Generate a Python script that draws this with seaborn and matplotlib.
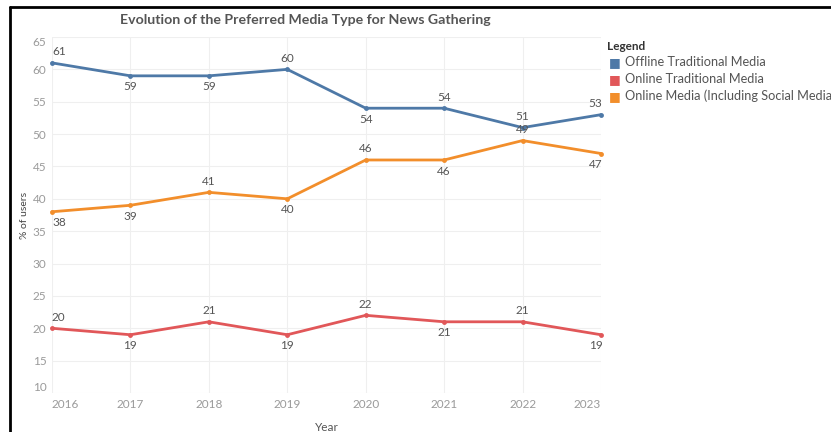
import matplotlib
matplotlib.use("Agg")
import matplotlib.pyplot as plt
import matplotlib.lines as mlines
import seaborn as sns
import pandas as pd

years = [2016, 2017, 2018, 2019, 2020, 2021, 2022, 2023]
offline_traditional = [61, 59, 59, 60, 54, 54, 51, 53]
online_traditional = [20, 19, 21, 19, 22, 21, 21, 19]
online_media = [38, 39, 41, 40, 46, 46, 49, 47]

series_names = ["Offline Traditional Media", "Online Traditional Media",
                "Online Media (Including Social Media)"]
series_values = [offline_traditional, online_traditional, online_media]
# label placement per point: +1 above, -1 below
label_sides = [
    [1, -1, -1, 1, -1, 1, 1, 1],
    [1, -1, 1, -1, 1, -1, 1, -1],
    [-1, -1, 1, -1, 1, -1, 1, -1],
]
colors = ["#4e79a7", "#e15759", "#f28e2b"]
y_ticks = [10, 15, 20, 25, 30, 35, 40, 45, 50, 55, 60, 65]

rows = []
for name, vals in zip(series_names, series_values):
    for yr, v in zip(years, vals):
        rows.append({"Year": yr, "Share": v, "Media": name})
df = pd.DataFrame(rows)

sns.set_theme(style="white")
plt.rcParams["font.family"] = ["Lato", "DejaVu Sans"]

fig = plt.figure(figsize=(8.31, 4.32), dpi=100)
ax = fig.add_axes([52 / 831, 1 - 393 / 432, (601 - 52) / 831, (393 - 37) / 432])

sns.lineplot(data=df, x="Year", y="Share", hue="Media", palette=colors,
             hue_order=series_names, marker="o", markersize=3.5,
             markeredgewidth=0, linewidth=2, ax=ax, legend=False)
for ln in ax.lines:
    ln.set_clip_on(False)

ax.set_xlim(years[0], years[-1])
ax.set_ylim(10, 65)
ax.set_xticks(years)
ax.set_yticks(y_ticks)
ax.set_xticklabels([str(y) for y in years])
ax.set_yticklabels([str(t) for t in y_ticks])
ax.grid(True, color="#efefef", linewidth=0.8)
for s in ax.spines.values():
    s.set_visible(False)
ax.tick_params(axis="both", length=0, labelsize=8.5, labelcolor="#9a9a9a", pad=4)

xl = ax.get_xticklabels()
xl[0].set_ha("left")
xl[-1].set_ha("right")
yl = ax.get_yticklabels()
yl[0].set_va("bottom")
yl[-1].set_va("top")

ax.set_xlabel("Year", fontsize=8.5, color="#555555", labelpad=9)
ax.set_ylabel("% of users", fontsize=7.5, color="#444444")
ax.yaxis.set_label_coords((29 - 52) / 549, 0.5)

# value labels
for vals, sides in zip(series_values, label_sides):
    for i, (yr, v, sd) in enumerate(zip(years, vals, sides)):
        ha = "center"
        dx = 0
        if i == 0:
            ha, dx = "left", 0
        elif i == len(years) - 1:
            ha, dx = "right", 1
        ax.annotate(str(v), (yr, v), xytext=(dx, 4 * sd), textcoords="offset points",
                    ha=ha, va="bottom" if sd > 0 else "top",
                    fontsize=8.5, color="#555555", annotation_clip=False)

fig.text(305 / 831, 1 - 20 / 432, "Evolution of the Preferred Media Type for News Gathering",
         ha="center", va="center", fontsize=10.2, fontweight="bold", color="#555555")

# legend drawn at the right side of the figure
fig.text(607 / 831, 1 - 46 / 432, "Legend", ha="left", va="center",
         fontsize=8.5, fontweight="bold", color="#333333")
for k, (name, col) in enumerate(zip(series_names, colors)):
    yy = 1 - (62 + k * 17) / 432
    fig.text(609 / 831, yy, "\u25A0", ha="left", va="center", fontsize=9, color=col)
    fig.text(625 / 831, yy, name, ha="left", va="center", fontsize=9.2, color="#555555")

# black frame lines along the top and left edges
fig.add_artist(mlines.Line2D([10 / 831, 1], [1 - 7 / 432, 1 - 7 / 432],
                             color="black", linewidth=2, transform=fig.transFigure))
fig.add_artist(mlines.Line2D([10 / 831, 10 / 831], [0, 1 - 7 / 432],
                             color="black", linewidth=2, transform=fig.transFigure))

fig.savefig("out.png", dpi=100)
